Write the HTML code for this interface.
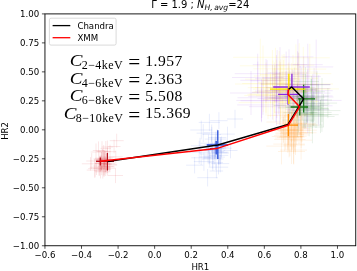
<!DOCTYPE html>
<html><head><meta charset="utf-8"><title>HR plot</title>
<style>
html,body{margin:0;padding:0;background:#fff;}
body{width:357px;height:271px;overflow:hidden;}
svg{display:block;}
.t{font-family:"DejaVu Sans","Liberation Sans",sans-serif;font-size:8.62px;fill:#000;}
.s{font-family:"Liberation Serif","DejaVu Serif",serif;fill:#000;}
</style></head><body>
<svg style="will-change:transform" width="357" height="271" viewBox="0 0 357 271">
<rect width="357" height="271" fill="#fff"/>
<defs><clipPath id="ax"><rect x="44.95" y="13.9" width="310.8" height="231.85"/></clipPath></defs>

<g clip-path="url(#ax)" stroke-width="1.0" fill="none">
<g stroke="#ffe600" stroke-opacity="0.1">
<path d="M257.3 90.6H306.1M281.7 75.5V105.8"/>
<path d="M258.0 82.7H287.8M272.9 60.5V104.8"/>
<path d="M283.4 87.7H313.6M298.5 72.3V103.2"/>
<path d="M247.4 94.4H279.3M263.3 76.8V112.0"/>
<path d="M239.8 65.8H286.2M263.0 45.5V86.2"/>
<path d="M261.2 84.5H316.7M289.0 65.9V103.1"/>
<path d="M270.1 89.3H307.9M289.0 62.3V116.4"/>
<path d="M268.0 98.2H316.5M292.2 78.2V118.1"/>
<path d="M265.6 83.8H295.5M280.5 66.5V101.1"/>
<path d="M260.2 74.5H298.2M279.2 51.1V97.8"/>
<path d="M247.8 87.7H301.2M274.5 62.5V112.9"/>
<path d="M263.2 99.4H308.0M285.6 71.4V127.4"/>
<path d="M253.9 76.0H313.3M283.6 60.1V91.9"/>
<path d="M249.5 94.1H282.4M266.0 72.3V115.9"/>
<path d="M277.5 89.0H330.0M303.7 65.8V112.2"/>
<path d="M267.9 78.3H318.1M293.0 54.8V101.8"/>
<path d="M245.0 79.2H299.9M272.4 50.0V108.3"/>
<path d="M251.1 87.6H281.0M266.0 62.4V112.9"/>
<path d="M233.1 57.3H287.5M260.3 38.7V75.9"/>
<path d="M256.1 95.8H284.8M270.4 74.4V117.1"/>
<path d="M273.3 89.8H303.1M288.2 63.5V116.1"/>
<path d="M271.5 91.0H312.0M291.7 63.1V119.0"/>
<path d="M274.6 90.8H320.2M297.4 62.7V119.0"/>
<path d="M277.5 65.1H314.4M295.9 44.4V85.7"/>
<path d="M238.6 102.7H297.3M268.0 86.3V119.1"/>
<path d="M271.5 92.1H307.0M289.2 70.4V113.9"/>
<path d="M262.3 80.4H290.5M276.4 59.7V101.1"/>
<path d="M244.3 95.4H302.8M273.6 70.4V120.5"/>
<path d="M242.2 83.5H291.9M267.1 68.7V98.4"/>
<path d="M275.3 73.7H331.3M303.3 46.9V100.5"/>
<path d="M259.1 91.9H290.4M274.8 67.8V116.1"/>
<path d="M272.1 86.6H306.8M289.5 70.0V103.2"/>
<path d="M268.7 88.1H296.7M282.7 71.6V104.5"/>
<path d="M280.5 91.2H309.3M294.9 63.2V119.2"/>
<path d="M261.4 80.9H297.5M279.4 61.3V100.5"/>
<path d="M253.0 89.2H308.2M280.6 59.4V119.1"/>
<path d="M255.0 87.7H285.8M270.4 72.0V103.3"/>
<path d="M252.1 92.2H306.7M279.4 75.6V108.8"/>
<path d="M294.1 88.9H339.0M316.6 72.6V105.3"/>
<path d="M259.6 84.3H304.5M282.1 54.7V114.0"/>
<path d="M279.9 72.1H316.3M298.1 52.3V92.0"/>
<path d="M273.6 101.4H318.7M296.1 74.9V127.9"/>
<path d="M253.6 91.9H307.6M280.6 62.1V121.6"/>
<path d="M272.1 69.1H326.2M299.2 43.2V94.9"/>
<path d="M267.6 98.1H307.0M287.3 83.7V112.6"/>
<path d="M253.4 68.8H297.4M275.4 47.8V89.8"/>
<path d="M235.0 84.0H333.0M284.0 54.0V114.0"/>
<path d="M289.8 57.8H329.8M309.8 43.8V71.8"/>
</g>
<g stroke="#8a2be2" stroke-opacity="0.1">
<path d="M282.5 89.7H317.8M300.2 66.0V113.4"/>
<path d="M276.6 84.5H330.8M303.7 56.6V112.3"/>
<path d="M284.7 84.8H318.9M301.8 67.6V102.0"/>
<path d="M269.4 95.7H314.8M292.1 69.1V122.3"/>
<path d="M274.5 76.4H320.8M297.6 51.2V101.6"/>
<path d="M280.0 97.0H333.5M306.7 72.0V121.9"/>
<path d="M272.5 74.3H305.5M289.0 49.3V99.4"/>
<path d="M248.9 106.7H304.1M276.5 87.2V126.3"/>
<path d="M237.2 104.9H285.5M261.4 88.5V121.3"/>
<path d="M267.9 92.9H321.3M294.6 67.6V118.2"/>
<path d="M277.2 105.8H332.6M304.9 82.6V129.1"/>
<path d="M262.7 100.2H294.4M278.6 86.0V114.4"/>
<path d="M287.6 84.8H330.3M308.9 57.8V111.9"/>
<path d="M237.5 97.8H288.6M263.0 80.9V114.8"/>
<path d="M271.5 98.0H306.2M288.9 75.8V120.2"/>
<path d="M272.3 100.5H304.0M288.1 73.7V127.2"/>
<path d="M257.4 98.6H301.8M279.6 71.9V125.2"/>
<path d="M240.5 100.8H282.5M261.5 79.4V122.3"/>
<path d="M266.1 87.7H306.5M286.3 71.1V104.2"/>
<path d="M297.7 88.5H330.5M314.1 67.9V109.2"/>
<path d="M267.7 72.9H304.8M286.2 51.6V94.1"/>
<path d="M250.5 80.8H281.4M266.0 59.0V102.7"/>
<path d="M264.3 97.7H313.9M289.1 76.6V118.8"/>
<path d="M240.3 80.3H293.9M267.1 60.1V100.5"/>
<path d="M255.2 78.7H297.5M276.4 55.1V102.4"/>
<path d="M251.8 92.4H293.2M272.5 65.2V119.6"/>
<path d="M252.8 64.7H307.2M280.0 47.1V82.3"/>
<path d="M232.0 77.5H283.5M257.8 61.6V93.4"/>
<path d="M284.9 97.0H314.9M299.9 79.6V114.3"/>
<path d="M282.7 95.9H332.6M307.7 69.4V122.5"/>
<path d="M278.3 103.7H324.8M301.6 87.7V119.7"/>
<path d="M299.1 66.9H333.2M316.2 39.6V94.2"/>
<path d="M248.2 96.3H303.9M276.0 70.6V121.9"/>
<path d="M275.6 98.8H318.1M296.9 80.1V117.6"/>
<path d="M269.0 97.9H317.2M293.1 83.6V112.2"/>
<path d="M260.5 83.7H289.0M274.8 65.1V102.3"/>
<path d="M262.2 77.9H292.0M277.1 50.1V105.7"/>
<path d="M282.5 56.9H313.4M297.9 39.2V74.6"/>
<path d="M294.8 93.1H330.4M312.6 77.3V108.9"/>
<path d="M236.3 100.4H287.2M261.8 82.8V118.0"/>
<path d="M285.6 109.7H329.5M307.6 85.9V133.5"/>
<path d="M269.4 90.2H316.7M293.1 70.2V110.2"/>
<path d="M295.8 100.4H341.6M318.7 75.2V125.7"/>
<path d="M297.9 99.9H327.8M312.8 73.8V125.9"/>
<path d="M255.0 91.1H298.5M276.8 64.2V118.1"/>
<path d="M234.7 73.7H280.7M257.7 53.7V93.7"/>
<path d="M230.0 93.0H272.0M251.0 71.0V115.0"/>
<path d="M292.8 64.7H322.8M307.8 43.7V85.7"/>
<path d="M264.7 90.7H332.7M298.7 52.7V128.7"/>
</g>
<g stroke="#1a7a1a" stroke-opacity="0.1">
<path d="M292.7 110.7H320.2M306.5 97.6V123.9"/>
<path d="M301.7 109.4H320.6M311.1 96.6V122.2"/>
<path d="M288.2 113.1H319.9M304.1 99.5V126.7"/>
<path d="M289.2 106.0H313.5M301.4 94.8V117.2"/>
<path d="M291.4 107.6H322.6M307.0 91.6V123.5"/>
<path d="M293.4 115.5H328.2M310.8 103.5V127.4"/>
<path d="M297.6 97.3H324.5M311.0 78.8V115.8"/>
<path d="M283.4 112.7H313.8M298.6 92.8V132.5"/>
<path d="M282.3 120.2H313.0M297.6 103.5V136.9"/>
<path d="M290.6 110.7H309.6M300.1 98.5V122.9"/>
<path d="M309.1 112.4H331.7M320.4 99.9V124.8"/>
<path d="M305.1 114.7H338.7M321.9 97.7V131.8"/>
<path d="M294.0 112.6H317.3M305.7 97.4V127.7"/>
<path d="M301.0 114.2H323.7M312.4 94.5V133.8"/>
<path d="M307.0 104.1H329.4M318.2 84.4V123.8"/>
<path d="M294.9 113.9H312.9M303.9 99.4V128.3"/>
<path d="M285.7 107.7H307.3M296.5 92.1V123.2"/>
<path d="M304.2 106.2H323.9M314.0 91.6V120.8"/>
<path d="M297.1 106.5H320.6M308.9 93.4V119.6"/>
<path d="M281.8 100.3H313.3M297.5 83.4V117.3"/>
<path d="M290.6 87.9H315.6M303.1 74.0V101.9"/>
<path d="M296.6 105.5H327.6M312.1 88.7V122.3"/>
<path d="M306.4 110.6H340.5M323.5 94.0V127.3"/>
<path d="M295.1 89.6H315.6M305.3 73.9V105.3"/>
<path d="M273.7 105.5H306.2M289.9 87.1V124.0"/>
<path d="M275.4 96.4H305.7M290.6 79.2V113.7"/>
<path d="M297.1 108.2H317.5M307.3 94.0V122.5"/>
<path d="M306.5 116.5H334.6M320.5 99.8V133.1"/>
<path d="M284.1 96.3H310.9M297.5 85.3V107.3"/>
<path d="M297.9 91.7H324.9M311.4 75.9V107.5"/>
<path d="M289.6 103.2H320.8M305.2 89.9V116.5"/>
<path d="M297.7 109.2H328.9M313.3 96.3V122.0"/>
<path d="M292.0 81.5H318.9M305.4 67.1V95.9"/>
<path d="M277.6 107.8H309.4M293.5 91.2V124.3"/>
<path d="M294.4 103.2H315.1M304.7 89.9V116.5"/>
<path d="M292.6 98.3H320.8M306.7 87.2V109.5"/>
<path d="M298.6 108.6H328.7M313.6 91.4V125.9"/>
<path d="M290.0 99.3H317.3M303.6 84.2V114.5"/>
<path d="M285.5 106.9H319.6M302.6 94.2V119.7"/>
<path d="M318.8 103.1H337.1M327.9 88.0V118.2"/>
<path d="M304.0 84.6H330.1M317.0 71.2V98.0"/>
<path d="M301.5 127.0H323.3M312.4 110.8V143.3"/>
<path d="M296.3 114.5H331.5M313.9 102.3V126.7"/>
<path d="M294.6 96.3H328.6M311.6 79.0V113.6"/>
<path d="M295.9 125.1H322.6M309.2 113.9V136.3"/>
<path d="M312.0 100.0H332.0M322.0 78.0V122.0"/>
<path d="M304.0 108.0H328.0M316.0 88.0V128.0"/>
</g>
<g stroke="#ff8c00" stroke-opacity="0.1">
<path d="M286.8 130.2H311.1M299.0 116.5V144.0"/>
<path d="M284.3 136.4H306.7M295.5 117.8V155.0"/>
<path d="M287.1 130.2H316.9M302.0 118.1V142.2"/>
<path d="M285.2 123.7H315.8M300.5 110.0V137.3"/>
<path d="M271.8 136.5H303.8M287.8 120.2V152.8"/>
<path d="M277.0 137.3H298.9M287.9 125.9V148.7"/>
<path d="M290.1 140.2H312.1M301.1 120.8V159.6"/>
<path d="M279.4 137.1H304.6M292.0 124.4V149.8"/>
<path d="M266.3 146.1H296.7M281.5 127.8V164.4"/>
<path d="M267.4 115.4H298.6M283.0 99.5V131.4"/>
<path d="M277.5 127.2H305.8M291.6 112.1V142.2"/>
<path d="M281.1 117.1H303.1M292.1 105.6V128.5"/>
<path d="M282.5 127.9H307.1M294.8 113.8V142.0"/>
<path d="M273.3 144.1H304.9M289.1 130.8V157.4"/>
<path d="M276.3 123.7H302.1M289.2 109.1V138.2"/>
<path d="M283.3 134.6H304.2M293.8 115.5V153.8"/>
<path d="M272.4 130.1H303.1M287.8 110.1V150.1"/>
<path d="M278.5 131.5H299.2M288.9 119.7V143.3"/>
<path d="M279.9 133.3H301.2M290.6 120.0V146.6"/>
<path d="M266.4 122.0H294.9M280.6 107.3V136.7"/>
<path d="M274.1 135.6H297.4M285.7 121.6V149.7"/>
<path d="M280.7 132.8H312.2M296.5 120.6V144.9"/>
<path d="M268.5 129.7H298.6M283.5 116.8V142.7"/>
<path d="M279.6 136.7H303.2M291.4 121.7V151.8"/>
<path d="M288.1 125.0H318.3M303.2 113.8V136.2"/>
<path d="M286.0 132.8H316.5M301.2 117.6V148.1"/>
<path d="M280.2 129.9H303.6M291.9 110.6V149.3"/>
<path d="M281.6 114.3H313.2M297.4 101.0V127.5"/>
<path d="M282.0 133.3H307.3M294.7 116.2V150.4"/>
<path d="M287.4 124.8H314.5M301.0 106.9V142.7"/>
<path d="M275.4 133.0H294.0M284.7 115.0V151.1"/>
<path d="M280.0 150.1H307.0M293.5 136.4V163.8"/>
<path d="M281.7 134.9H308.6M295.2 117.6V152.2"/>
<path d="M281.1 132.2H306.4M293.7 116.0V148.5"/>
<path d="M275.5 134.1H302.0M288.7 123.0V145.2"/>
<path d="M274.2 139.5H305.6M289.9 122.7V156.3"/>
<path d="M286.4 123.2H307.7M297.1 110.0V136.4"/>
<path d="M289.9 126.6H312.2M301.1 115.4V137.8"/>
<path d="M271.1 130.1H295.0M283.0 116.8V143.5"/>
<path d="M274.6 112.2H295.8M285.2 100.9V123.5"/>
<path d="M274.9 138.0H302.5M288.7 125.2V150.8"/>
<path d="M282.3 115.9H307.4M294.9 103.0V128.7"/>
<path d="M282.4 128.5H311.8M297.1 115.5V141.6"/>
<path d="M282.7 145.0H304.9M293.8 125.4V164.5"/>
<path d="M277.6 130.2H298.7M288.1 115.4V144.9"/>
<path d="M278.0 151.5H305.0M291.5 139.0V164.0"/>
</g>
<g stroke="#2a52e0" stroke-opacity="0.1">
<path d="M196.6 133.2H210.1M203.3 124.2V142.2"/>
<path d="M209.7 171.0H223.1M216.4 163.8V178.3"/>
<path d="M208.0 153.0H229.0M218.5 141.5V164.4"/>
<path d="M198.7 122.4H220.0M209.4 113.8V131.1"/>
<path d="M208.7 167.2H228.2M218.5 160.1V174.4"/>
<path d="M200.6 143.3H216.4M208.5 134.6V152.0"/>
<path d="M204.9 150.5H219.7M212.3 141.8V159.3"/>
<path d="M204.6 148.9H226.3M215.5 140.8V156.9"/>
<path d="M193.8 161.6H214.0M203.9 152.5V170.8"/>
<path d="M211.7 152.8H227.4M219.6 141.2V164.4"/>
<path d="M203.8 157.1H224.8M214.3 150.0V164.3"/>
<path d="M191.3 157.8H211.0M201.2 150.6V165.0"/>
<path d="M203.9 150.6H225.1M214.5 142.3V158.9"/>
<path d="M204.0 132.9H219.4M211.7 124.5V141.3"/>
<path d="M214.0 147.1H228.7M221.4 136.5V157.7"/>
<path d="M203.7 155.9H215.7M209.7 145.1V166.7"/>
<path d="M209.9 144.3H231.3M220.6 137.2V151.4"/>
<path d="M202.0 159.0H223.6M212.8 147.3V170.8"/>
<path d="M199.8 154.0H216.1M208.0 144.5V163.4"/>
<path d="M206.0 147.8H226.0M216.0 137.1V158.5"/>
<path d="M208.3 137.6H226.4M217.3 129.0V146.3"/>
<path d="M199.3 156.9H219.1M209.2 149.5V164.3"/>
<path d="M208.6 162.7H223.0M215.8 155.3V170.0"/>
<path d="M213.0 152.1H228.3M220.7 140.2V164.0"/>
<path d="M220.1 134.1H234.8M227.5 126.7V141.5"/>
<path d="M209.2 155.4H228.3M218.8 146.1V164.6"/>
<path d="M203.6 158.3H221.8M212.7 147.9V168.6"/>
<path d="M202.5 134.5H221.1M211.8 126.9V142.1"/>
<path d="M206.3 144.4H224.0M215.2 135.5V153.3"/>
<path d="M204.4 144.7H218.9M211.7 136.5V152.9"/>
<path d="M211.4 163.6H229.2M220.3 155.0V172.3"/>
<path d="M186.1 165.2H203.2M194.6 157.0V173.4"/>
<path d="M204.7 139.1H226.6M215.7 131.6V146.6"/>
<path d="M189.0 152.3H209.4M199.2 140.8V163.9"/>
<path d="M211.1 151.7H224.2M217.7 143.7V159.6"/>
<path d="M210.5 148.2H231.8M221.1 139.3V157.1"/>
<path d="M209.8 143.5H224.4M217.1 132.6V154.4"/>
<path d="M206.1 148.7H224.1M215.1 138.6V158.8"/>
<path d="M197.3 177.7H217.9M207.6 169.0V186.4"/>
<path d="M190.3 130.0H212.3M201.3 120.6V139.4"/>
<path d="M210.2 120.7H227.6M218.9 112.2V129.2"/>
<path d="M227.0 119.0H243.0M235.0 109.8V128.2"/>
<path d="M223.5 150.5H237.5M230.5 142.7V158.3"/>
<path d="M191.0 145.8H209.0M200.0 137.8V153.8"/>
</g>
<g stroke="#d8101c" stroke-opacity="0.1">
<path d="M98.4 169.1H109.5M104.0 162.3V175.9"/>
<path d="M95.2 171.8H110.4M102.8 165.0V178.6"/>
<path d="M99.7 163.4H115.2M107.4 156.7V170.2"/>
<path d="M93.5 167.1H109.9M101.7 158.9V175.2"/>
<path d="M98.6 164.2H111.7M105.1 156.0V172.4"/>
<path d="M95.9 160.8H107.3M101.6 152.0V169.6"/>
<path d="M93.3 165.8H105.8M99.6 156.0V175.7"/>
<path d="M94.1 170.8H107.0M100.5 163.1V178.4"/>
<path d="M107.6 146.5H120.5M114.1 139.7V153.3"/>
<path d="M97.5 158.7H107.6M102.5 149.0V168.3"/>
<path d="M88.2 168.6H101.4M94.8 159.0V178.1"/>
<path d="M95.1 163.9H105.2M100.1 155.7V172.1"/>
<path d="M90.7 152.0H101.4M96.0 143.5V160.5"/>
<path d="M93.3 168.6H104.5M98.9 161.5V175.7"/>
<path d="M86.3 161.0H97.1M91.7 153.1V169.0"/>
<path d="M101.6 147.0H113.2M107.4 140.5V153.5"/>
<path d="M108.8 156.8H122.7M115.8 150.6V163.0"/>
<path d="M98.8 160.1H116.0M107.4 151.6V168.6"/>
<path d="M96.2 159.6H112.5M104.3 152.7V166.5"/>
<path d="M86.7 170.1H103.3M95.0 163.4V176.8"/>
<path d="M96.9 169.4H111.1M104.0 161.9V177.0"/>
<path d="M97.8 166.4H113.6M105.7 156.8V176.0"/>
<path d="M101.2 165.1H117.2M109.2 159.0V171.3"/>
<path d="M96.9 160.2H111.7M104.3 152.0V168.4"/>
<path d="M93.3 159.0H106.7M100.0 150.7V167.4"/>
<path d="M89.7 167.3H103.2M96.5 159.5V175.0"/>
<path d="M102.9 164.3H116.8M109.9 157.4V171.3"/>
<path d="M96.9 151.7H110.6M103.7 145.0V158.4"/>
<path d="M95.1 163.5H106.2M100.7 155.8V171.2"/>
<path d="M100.5 166.8H114.6M107.5 160.7V173.0"/>
<path d="M93.7 161.0H109.6M101.6 151.9V170.1"/>
<path d="M94.3 162.8H108.3M101.3 155.3V170.4"/>
<path d="M97.1 161.9H114.0M105.6 151.9V171.9"/>
<path d="M96.2 151.1H107.7M102.0 141.2V161.1"/>
<path d="M81.8 163.8H99.2M90.5 157.2V170.5"/>
<path d="M100.5 148.4H111.0M105.8 141.0V155.8"/>
<path d="M94.5 159.2H111.7M103.1 152.1V166.3"/>
<path d="M97.1 159.7H111.1M104.1 150.0V169.4"/>
<path d="M97.0 167.9H111.0M104.0 160.6V175.2"/>
<path d="M100.4 163.9H111.7M106.1 154.2V173.7"/>
<path d="M92.8 150.5H104.1M98.5 141.4V159.7"/>
<path d="M100.1 168.3H115.2M107.6 160.9V175.7"/>
<path d="M100.1 157.1H114.8M107.4 147.5V166.6"/>
<path d="M107.9 175.5H123.0M115.5 167.9V183.1"/>
<path d="M95.2 158.1H113.1M104.2 149.8V166.4"/>
<path d="M109.7 140.7H123.7M116.7 133.7V147.7"/>
<path d="M104.0 151.7H116.0M110.0 144.7V158.7"/>
</g>
</g>
<g clip-path="url(#ax)" stroke-width="1.3" fill="none">
<path stroke="#b8101c" d="M96.2 161.4H114M107.4 153.0V170.6"/>
<path stroke="#b8101c" d="M96.2 161.4H104M100.3 157.4V165.6"/>
<path stroke="#2a4fd8" d="M206.8 145.0H228M217.8 130.3V158.9"/>
<path stroke="#2a4fd8" d="M210 148.6H217.5M216.2 141V154.5"/>
<path stroke="#ff8c00" d="M284 125.2H298M288.4 114V136.1"/>
<path stroke="#1a7a1a" d="M298 98.8H315M303.6 84.7V112.5"/>
<path stroke="#1a7a1a" d="M290.6 107.0H308M299.8 98V115.5"/>
<path stroke="#8a2be2" d="M273.2 87.0H309.8M291.9 73.7V88"/>
<path stroke="#8a2be2" d="M278.1 94.4H298.8M288.0 88V104.7"/>
<path stroke="#ffe600" d="M270 89.1H305M288.8 73.7V103.9"/>
</g>
<g clip-path="url(#ax)" fill="none" stroke-width="1.5" stroke-linejoin="round" stroke-linecap="butt">
<polyline stroke="#000" points="107.4,161.5 217.8,145.0 288.0,124.5 303.6,98.8 291.7,87.0 288.5,89.3"/>
<polyline stroke="#f00" points="100.3,161.3 216.5,148.6 288.4,125.2 299.6,106.8 288.0,94.4 288.5,89.3"/>
</g>
<rect x="44.95" y="13.9" width="310.8" height="231.85" fill="none" stroke="#000" stroke-width="0.9"/>
<g stroke="#000" stroke-width="0.7">
<line x1="44.95" x2="44.95" y1="245.75" y2="248.8"/>
<line x1="81.51" x2="81.51" y1="245.75" y2="248.8"/>
<line x1="118.08" x2="118.08" y1="245.75" y2="248.8"/>
<line x1="154.64" x2="154.64" y1="245.75" y2="248.8"/>
<line x1="191.21" x2="191.21" y1="245.75" y2="248.8"/>
<line x1="227.77" x2="227.77" y1="245.75" y2="248.8"/>
<line x1="264.34" x2="264.34" y1="245.75" y2="248.8"/>
<line x1="300.90" x2="300.90" y1="245.75" y2="248.8"/>
<line x1="337.47" x2="337.47" y1="245.75" y2="248.8"/>
<line y1="245.75" y2="245.75" x1="44.95" x2="41.900000000000006"/>
<line y1="216.77" y2="216.77" x1="44.95" x2="41.900000000000006"/>
<line y1="187.79" y2="187.79" x1="44.95" x2="41.900000000000006"/>
<line y1="158.81" y2="158.81" x1="44.95" x2="41.900000000000006"/>
<line y1="129.82" y2="129.82" x1="44.95" x2="41.900000000000006"/>
<line y1="100.84" y2="100.84" x1="44.95" x2="41.900000000000006"/>
<line y1="71.86" y2="71.86" x1="44.95" x2="41.900000000000006"/>
<line y1="42.88" y2="42.88" x1="44.95" x2="41.900000000000006"/>
<line y1="13.90" y2="13.90" x1="44.95" x2="41.900000000000006"/>
</g>
<g class="t">
<text x="44.95" y="258.10" text-anchor="middle">−0.6</text>
<text x="81.51" y="258.10" text-anchor="middle">−0.4</text>
<text x="118.08" y="258.10" text-anchor="middle">−0.2</text>
<text x="154.64" y="258.10" text-anchor="middle">0.0</text>
<text x="191.21" y="258.10" text-anchor="middle">0.2</text>
<text x="227.77" y="258.10" text-anchor="middle">0.4</text>
<text x="264.34" y="258.10" text-anchor="middle">0.6</text>
<text x="300.90" y="258.10" text-anchor="middle">0.8</text>
<text x="337.47" y="258.10" text-anchor="middle">1.0</text>
<text x="39.15" y="248.90" text-anchor="end">−1.00</text>
<text x="39.15" y="219.92" text-anchor="end">−0.75</text>
<text x="39.15" y="190.93" text-anchor="end">−0.50</text>
<text x="39.15" y="161.95" text-anchor="end">−0.25</text>
<text x="39.15" y="132.97" text-anchor="end">0.00</text>
<text x="39.15" y="103.99" text-anchor="end">0.25</text>
<text x="39.15" y="75.01" text-anchor="end">0.50</text>
<text x="39.15" y="46.03" text-anchor="end">0.75</text>
<text x="39.15" y="17.05" text-anchor="end">1.00</text>
<text x="200.35" y="270.1" text-anchor="middle">HR1</text>
<text transform="translate(8.4 130.9) rotate(-90)" text-anchor="middle">HR2</text>
<text x="200.2" y="8.4" text-anchor="middle" style="font-size:10px">Γ = 1.9 ; <tspan font-style="oblique">N</tspan><tspan font-style="oblique" font-size="7.6px" dy="1.2">H,&#8201;avg</tspan><tspan dy="-1.2">=24</tspan></text>
</g>
<rect x="49.4" y="18.2" width="66.7" height="26.9" rx="1.6" fill="#fff" fill-opacity="0.8" stroke="#ccc" stroke-width="0.7"/>
<line x1="52.6" x2="70.3" y1="25.6" y2="25.6" stroke="#000" stroke-width="1.3"/>
<line x1="52.6" x2="70.3" y1="37.7" y2="37.7" stroke="#f00" stroke-width="1.3"/>
<text class="t" x="77.4" y="28.7">Chandra</text>
<text class="t" x="77.4" y="40.8">XMM</text>
<text class="s" x="69.8" y="66.4" font-size="17.6px" font-style="italic" textLength="12.7" lengthAdjust="spacingAndGlyphs">C</text>
<text class="s" x="81.8" y="69.0" font-size="12px" letter-spacing="0.4">2−4keV</text>
<text class="s" transform="translate(128.3 69.3) scale(1 1.26)" font-size="16.6px" textLength="12" lengthAdjust="spacingAndGlyphs">=</text>
<text class="s" x="145.3" y="65.8" font-size="15.6px" letter-spacing="0.45">1.957</text>
<text class="s" x="69.8" y="84.1" font-size="17.6px" font-style="italic" textLength="12.7" lengthAdjust="spacingAndGlyphs">C</text>
<text class="s" x="81.8" y="86.7" font-size="12px" letter-spacing="0.4">4−6keV</text>
<text class="s" transform="translate(128.3 87.0) scale(1 1.26)" font-size="16.6px" textLength="12" lengthAdjust="spacingAndGlyphs">=</text>
<text class="s" x="145.3" y="83.5" font-size="15.6px" letter-spacing="0.45">2.363</text>
<text class="s" x="69.8" y="101.4" font-size="17.6px" font-style="italic" textLength="12.7" lengthAdjust="spacingAndGlyphs">C</text>
<text class="s" x="81.8" y="104.0" font-size="12px" letter-spacing="0.4">6−8keV</text>
<text class="s" transform="translate(128.3 104.3) scale(1 1.26)" font-size="16.6px" textLength="12" lengthAdjust="spacingAndGlyphs">=</text>
<text class="s" x="145.3" y="100.8" font-size="15.6px" letter-spacing="0.45">5.508</text>
<text class="s" x="63.8" y="118.9" font-size="17.6px" font-style="italic" textLength="12.7" lengthAdjust="spacingAndGlyphs">C</text>
<text class="s" x="75.8" y="121.5" font-size="12px" letter-spacing="0.4">8−10keV</text>
<text class="s" transform="translate(128.3 121.8) scale(1 1.26)" font-size="16.6px" textLength="12" lengthAdjust="spacingAndGlyphs">=</text>
<text class="s" x="145.3" y="118.3" font-size="15.6px" letter-spacing="0.45">15.369</text>
</svg></body></html>
